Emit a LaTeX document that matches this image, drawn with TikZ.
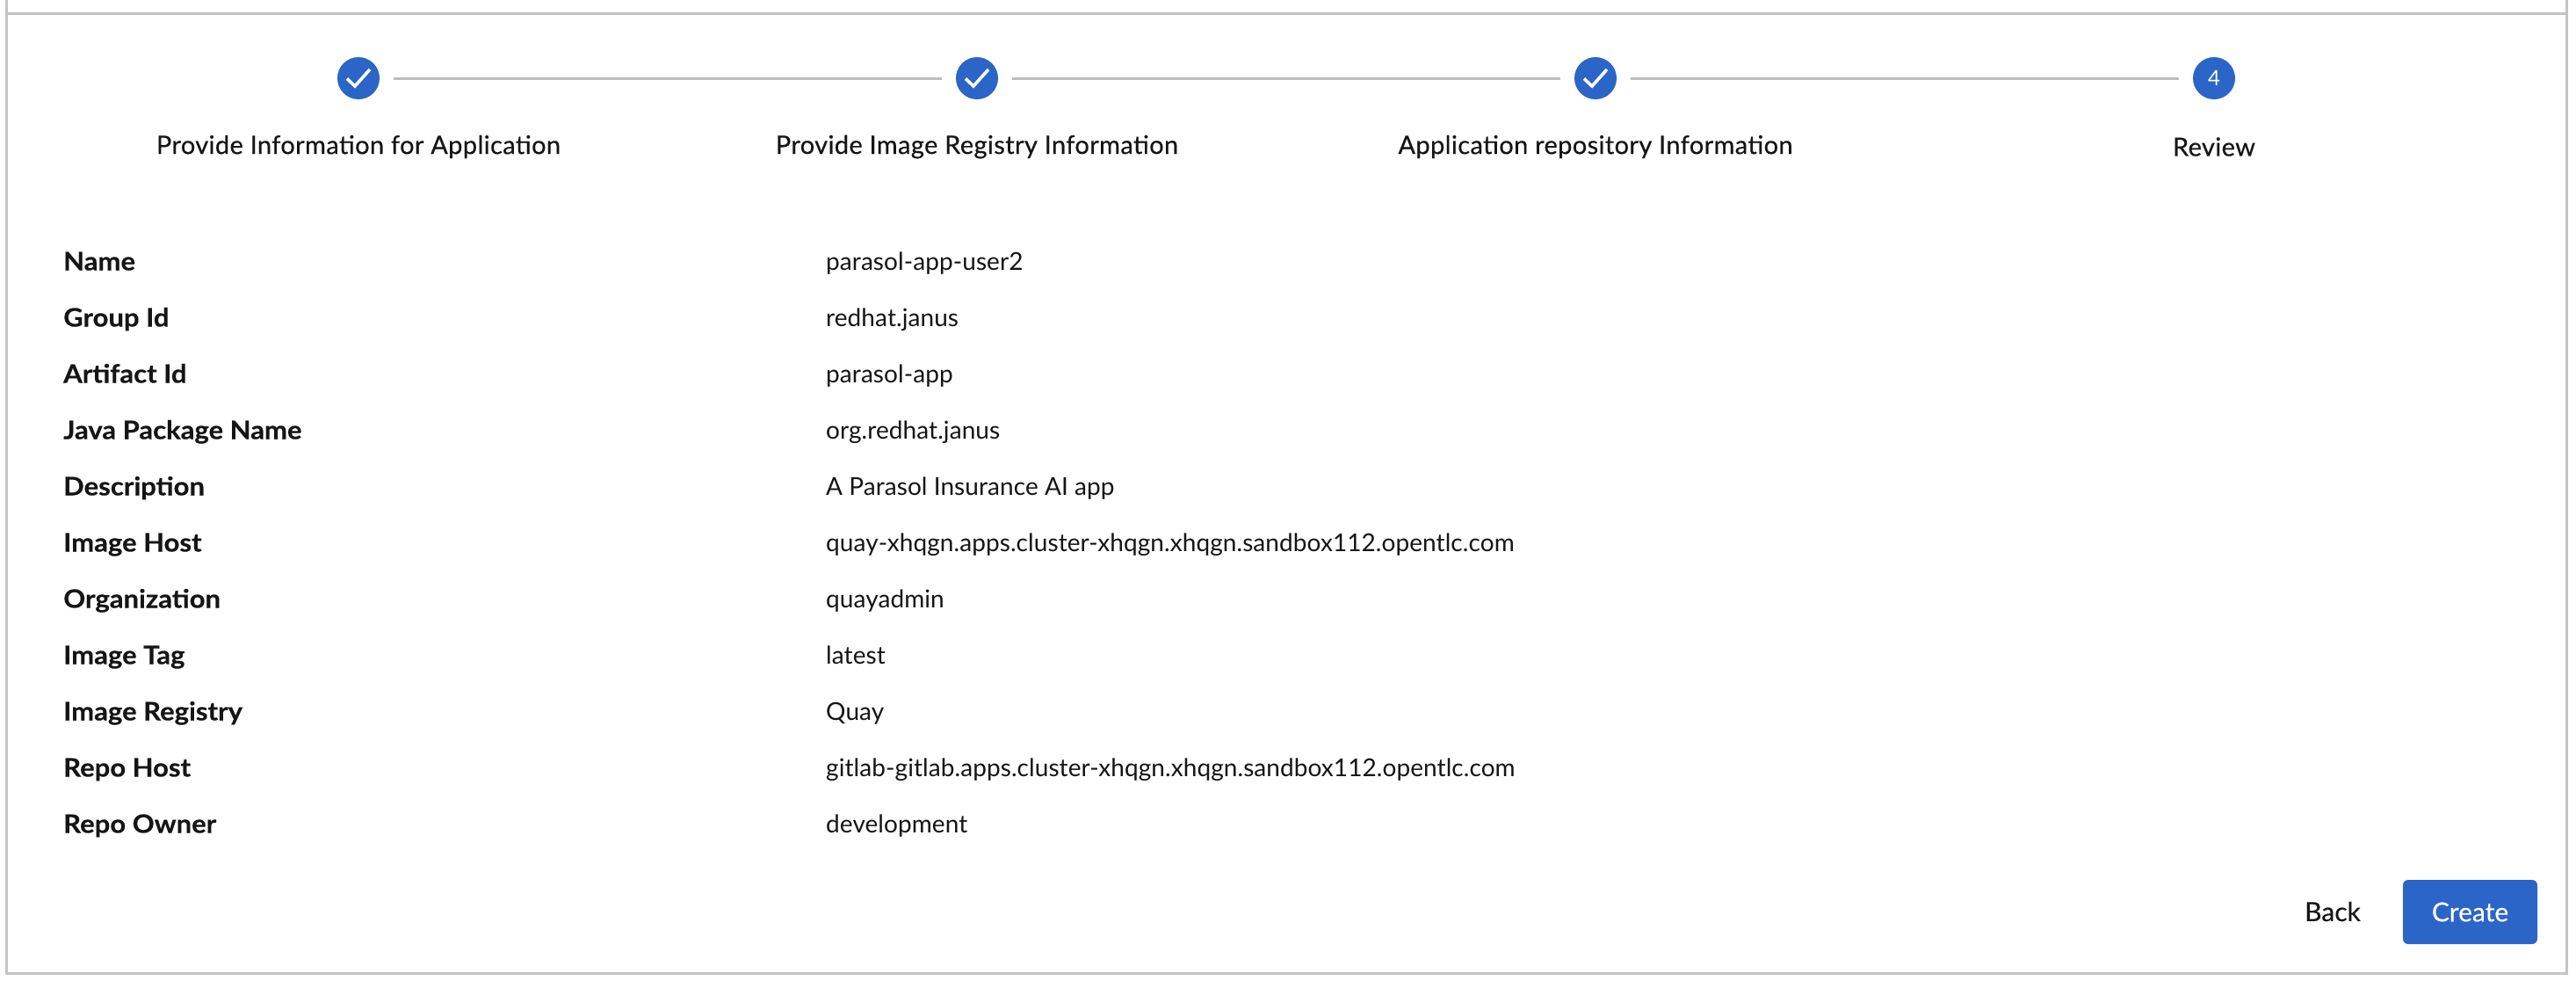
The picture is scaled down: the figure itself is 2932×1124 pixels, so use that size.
\documentclass[tikz,border=0pt]{standalone}
\usepackage{fontspec}
\setmainfont{Lato}
\definecolor{frame}{HTML}{C4C4C4}
\definecolor{stepline}{HTML}{BDBDBD}
\definecolor{brand}{HTML}{2B65C7}
\definecolor{ink}{HTML}{151515}
\tikzset{
  x=1pt,y=-1pt,
  framerule/.style={draw=frame,line width=3pt},
  stepdot/.style={circle,fill=brand,minimum size=48pt,inner sep=0pt,text=white,font=\fontsize{24}{28}\selectfont},
  stepname/.style={text=ink,inner sep=0pt,font=\fontsize{29}{34}\selectfont\addfontfeatures{LetterSpace=1.3,FakeBold=0.35}},
  stepjoin/.style={draw=stepline,line width=3pt,shorten >=16pt,shorten <=16pt},
  tick/.style={draw=white,line width=3.6pt,line cap=butt,line join=miter},
  keytext/.style={anchor=base west,text=ink,inner sep=0pt,font=\fontsize{29}{34}\selectfont\bfseries\addfontfeatures{FakeStretch=1.07,FakeBold=0.3}},
  valtext/.style={anchor=base west,text=ink,inner sep=0pt,font=\fontsize{28}{34}\selectfont\addfontfeatures{LetterSpace=0.25}},
  backbtn/.style={text=ink,inner sep=0pt,font=\fontsize{30}{34}\selectfont\addfontfeatures{FakeBold=0.25}},
  createbtn/.style={fill=brand,rounded corners=6pt,minimum width=153pt,minimum height=73pt,inner sep=0pt,text=white,font=\fontsize{30}{34}\selectfont\addfontfeatures{FakeBold=0.25}},
}
\begin{document}
\begin{tikzpicture}
\useasboundingbox (0,0) rectangle (2932,1124);
\fill[white] (0,0) rectangle (2932,1124);
% frame
\draw[framerule] (7,0) -- (7,1107) -- (2921,1107) -- (2921,0);
\draw[framerule] (7,16) -- (2921,16);
% steps
\node[stepdot] (s1) at (408,89) {};
\node[stepdot] (s2) at (1112,89) {};
\node[stepdot] (s3) at (1816,89) {};
\node[stepdot] (s4) at (2520,89) {4};
\draw[stepjoin] (s1) -- (s2);
\draw[stepjoin] (s2) -- (s3);
\draw[stepjoin] (s3) -- (s4);
\foreach \n in {s1,s2,s3}{
  \draw[tick] ([shift={(-13,0.5)}]\n.center) -- ([shift={(-4,9)}]\n.center) -- ([shift={(13,-10)}]\n.center);
}
\node[stepname] (l1) at (408,167) {Provide Information for Application};
\node[stepname] (l2) at (1112,167) {Provide Image Registry Information};
\node[stepname] (l3) at (1816,167) {Application repository Information};
\node[stepname] (l4) at (2520,167) {Review};
% rows
\foreach \i/\k/\v in {
 0/Name/parasol-app-user2,
 1/Group Id/redhat.janus,
 2/Artifact Id/parasol-app,
 3/Java Package Name/org.redhat.janus,
 4/Description/A Parasol Insurance AI app,
 5/Image Host/quay-xhqgn.apps.cluster-xhqgn.xhqgn.sandbox112.opentlc.com,
 6/Organization/quayadmin,
 7/Image Tag/latest,
 8/Image Registry/Quay,
 9/Repo Host/gitlab-gitlab.apps.cluster-xhqgn.xhqgn.sandbox112.opentlc.com,
 10/Repo Owner/development}{
  \node[keytext] (k\i) at (72,{307.5+64*\i}) {\k};
  \node[valtext] (v\i) at (940,{307.5+64*\i}) {\v};
}
% buttons
\node[backbtn] (back) at (2655,1037) {Back};
\node[createbtn] (create) at (2811.5,1037.5) {Create};
\end{tikzpicture}
\end{document}
